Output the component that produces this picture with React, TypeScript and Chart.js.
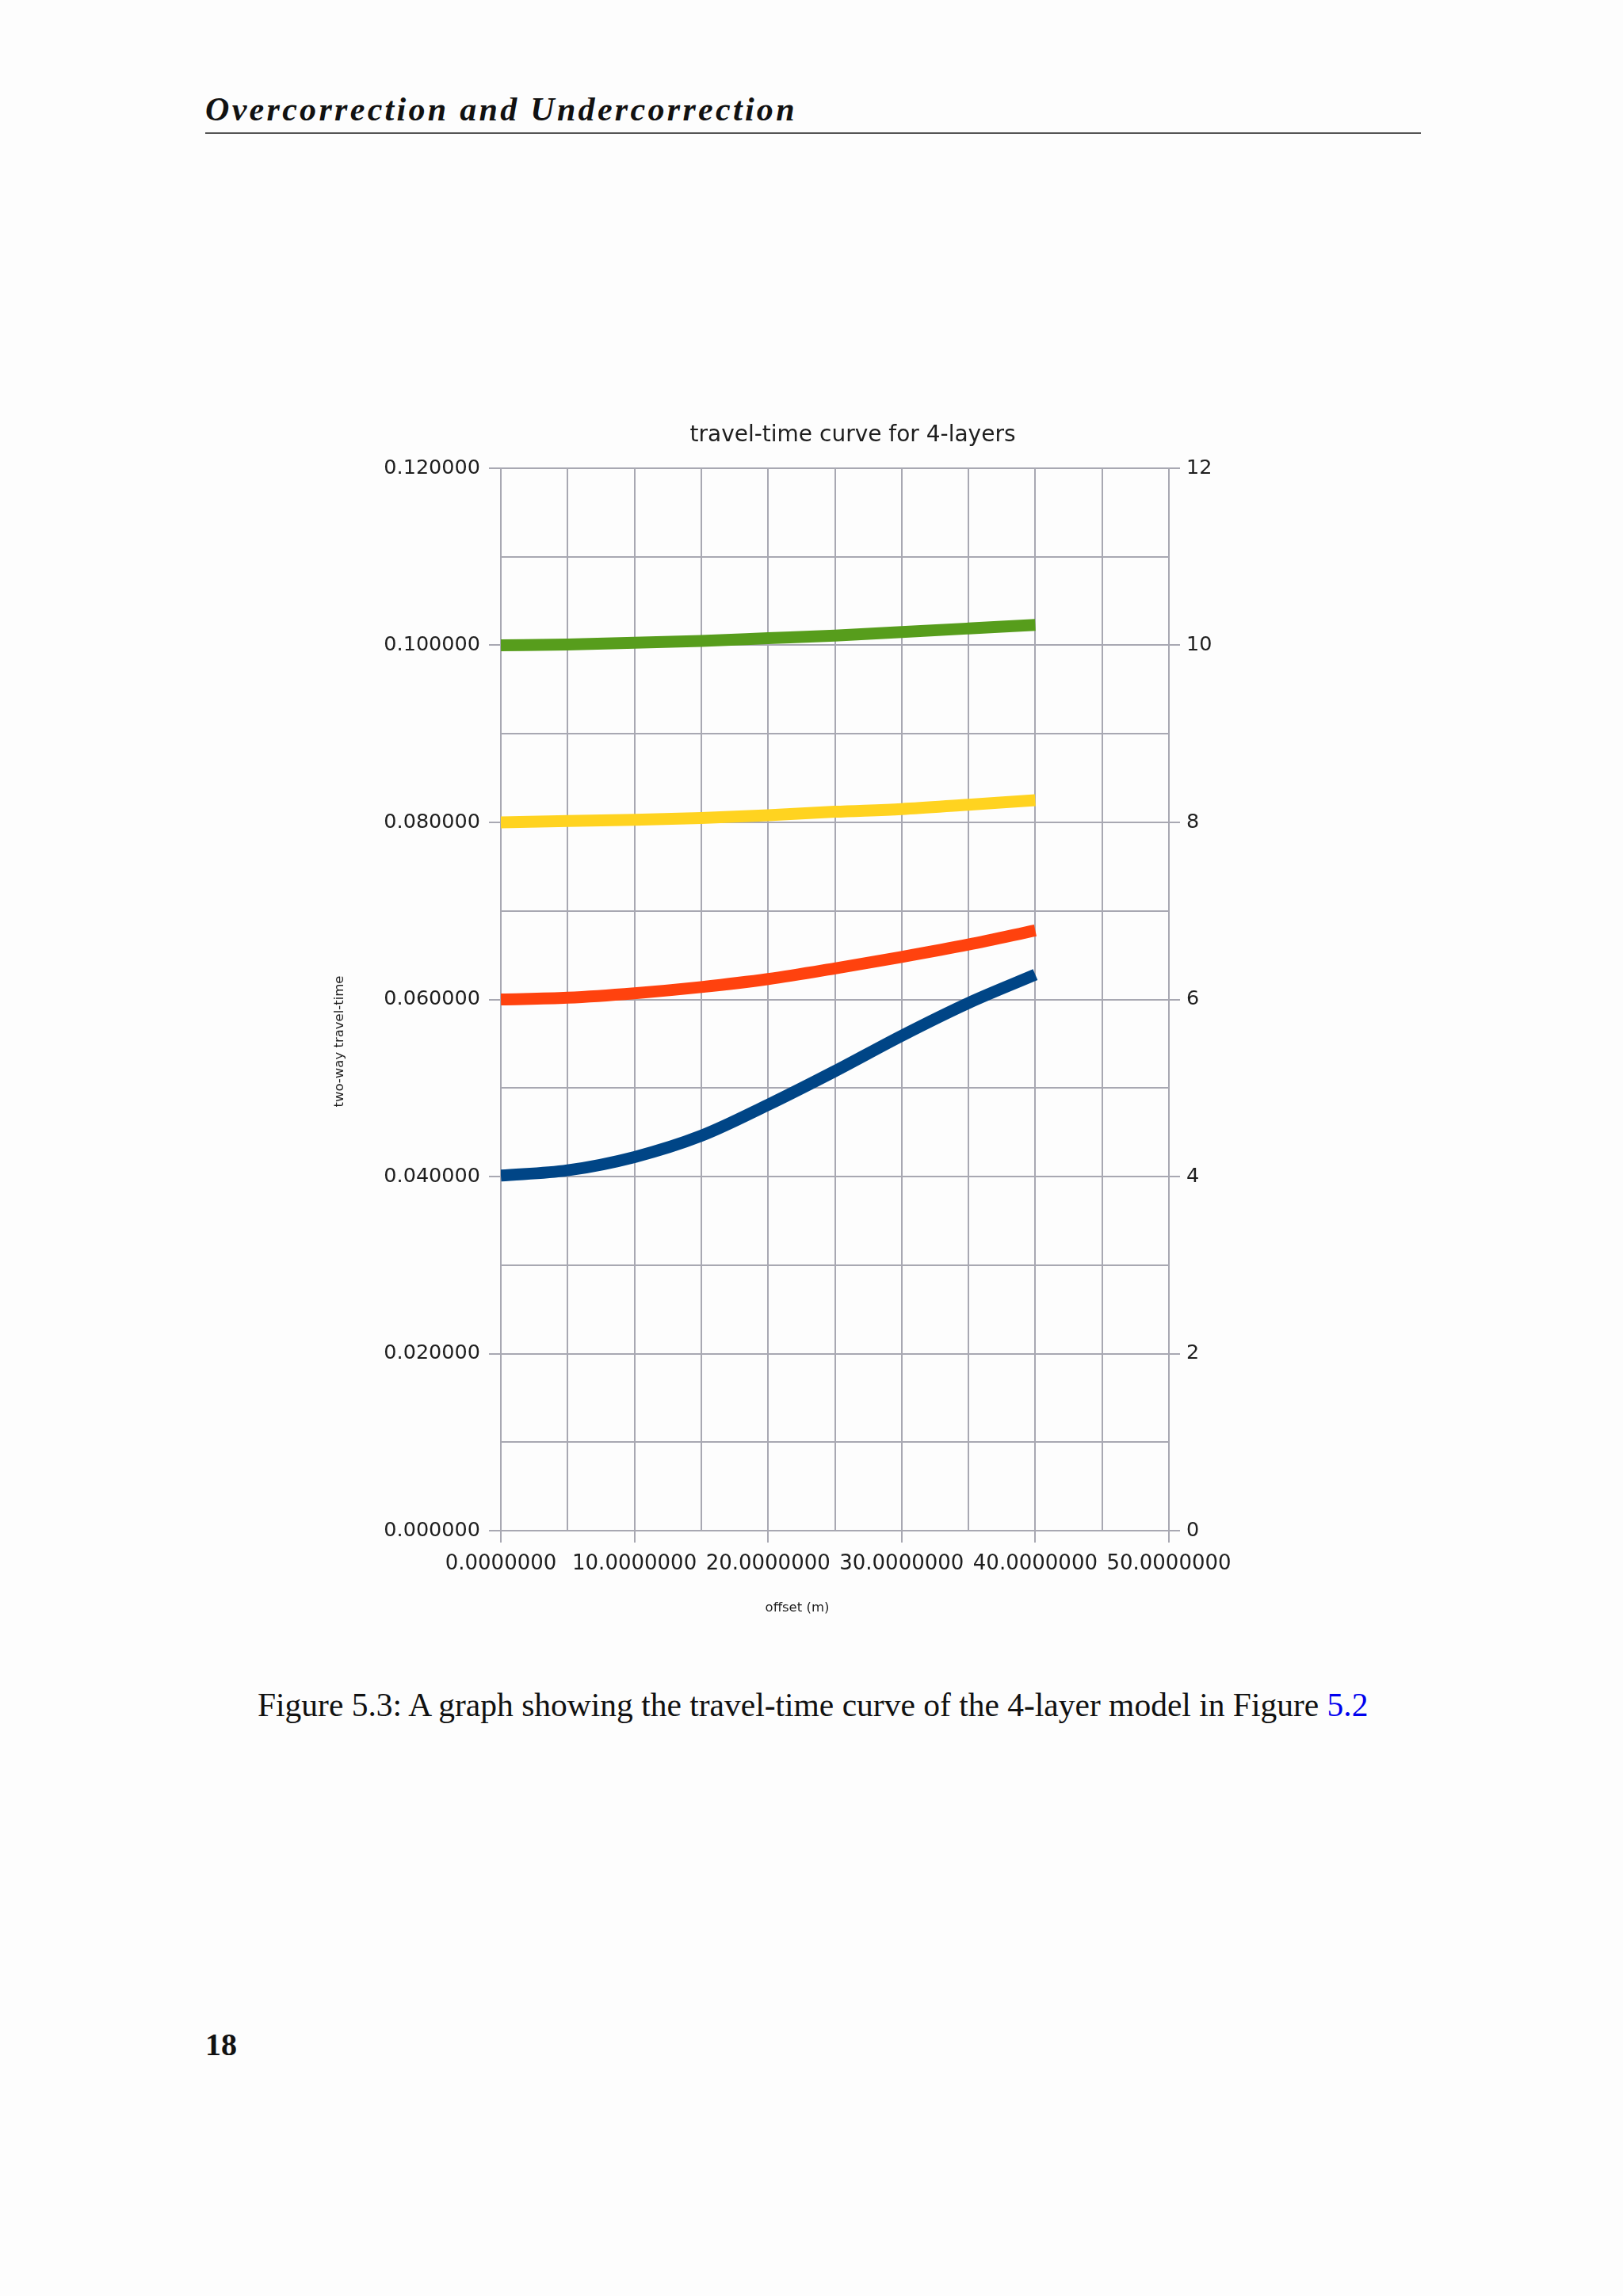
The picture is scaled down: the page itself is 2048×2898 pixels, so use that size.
import React, { useEffect, useRef } from "react";
import { Chart, registerables } from "chart.js";

Chart.register(...registerables);

// ---- data ----
const offsets = [0, 5, 10, 15, 20, 25, 30, 35, 40];
const layer1 = [0.0401, 0.0407, 0.0422, 0.0446, 0.0481, 0.0519, 0.0559, 0.0596, 0.0628];
const layer2 = [0.06, 0.0602, 0.0607, 0.0614, 0.0623, 0.0635, 0.0648, 0.0662, 0.0678];
const layer3 = [0.08, 0.08015, 0.0803, 0.0805, 0.0808, 0.0812, 0.0815, 0.082, 0.0825];
const layer4 = [0.1, 0.1001, 0.1003, 0.1005, 0.1008, 0.1011, 0.1015, 0.1019, 0.1023];
const seriesNames = ["layer 1", "layer 2", "layer 3", "layer 4"];
const seriesColors = ["#004586", "#ff420e", "#ffd320", "#579d1c"];
const chartTitle = "travel-time curve for 4-layers";
const xTitle = "offset (m)";
const yTitle = "two-way travel-time";

const GRID = "#a8a8b2";
const TEXT = "#1e1e1e";
const FONT = "'DejaVu Sans', Verdana, sans-serif";

export default function App() {
  const ref = useRef<HTMLCanvasElement | null>(null);

  useEffect(() => {
    if (!ref.current) return;
    const series = [layer1, layer2, layer3, layer4];
    const axisTitlePlugin = {
      id: "axisTitlePlugin",
      afterDraw(chart: any) {
        const { ctx, chartArea } = chart;
        ctx.save();
        ctx.font = "16.5px " + FONT;
        ctx.fillStyle = TEXT;
        ctx.textAlign = "center";
        ctx.textBaseline = "middle";
        ctx.fillText(xTitle, chartArea.left + 374, chartArea.bottom + 98);
        ctx.translate(chartArea.left - 203, (chartArea.top + chartArea.bottom) / 2 + 53);
        ctx.rotate(-Math.PI / 2);
        ctx.fillText(yTitle, 0, 0);
        ctx.restore();
      },
    };
    const chart = new Chart(ref.current, {
      type: "line",
      data: {
        datasets: series.map((s, i) => ({
          label: seriesNames[i],
          data: offsets.map((x, j) => ({ x, y: s[j] })),
          borderColor: seriesColors[i],
          backgroundColor: seriesColors[i],
          borderWidth: 15,
          borderCapStyle: "butt",
          pointRadius: 0,
          cubicInterpolationMode: "monotone",
          yAxisID: "y",
        })),
      },
      options: {
        animation: false,
        responsive: false,
        maintainAspectRatio: false,
        layout: { padding: 0 },
        plugins: {
          legend: { display: false },
          tooltip: { enabled: false },
          title: {
            display: true,
            text: chartTitle,
            color: TEXT,
            font: { family: FONT, size: 28, weight: "normal" },
            padding: { top: 33, bottom: 24.4 },
          },
        },
        scales: {
          x: {
            type: "linear",
            min: 0,
            max: 50,
            afterFit: (s: any) => {
              s.height = 128;
            },
            ticks: {
              stepSize: 5,
              autoSkip: false,
              maxRotation: 0,
              padding: 12,
              color: TEXT,
              font: { family: FONT, size: 26 },
              callback: (v: any) => (Math.round(v) % 10 === 0 ? Number(v).toFixed(7) : ""),
            },
            grid: {
              color: GRID,
              lineWidth: 2,
              tickLength: 15,
              tickColor: (c: any) => (c.tick && Math.round(c.tick.value) % 10 === 0 ? GRID : "rgba(0,0,0,0)"),
            },
            border: { display: true, color: GRID, width: 2 },
          },
          y: {
            type: "linear",
            position: "left",
            min: 0,
            max: 0.12,
            afterFit: (s: any) => {
              s.width = 232;
            },
            ticks: {
              stepSize: 0.01,
              autoSkip: false,
              padding: 11,
              color: TEXT,
              font: { family: FONT, size: 25.5 },
              callback: (v: any) => (Math.round(Number(v) * 100) % 2 === 0 ? Number(v).toFixed(6) : ""),
            },
            grid: {
              color: GRID,
              lineWidth: 2,
              tickLength: 15,
              tickColor: (c: any) =>
                c.tick && Math.round(c.tick.value * 100) % 2 === 0 ? GRID : "rgba(0,0,0,0)",
            },
            border: { display: true, color: GRID, width: 2 },
          },
          y2: {
            type: "linear",
            position: "right",
            min: 0,
            max: 12,
            afterFit: (s: any) => {
              s.width = 277;
            },
            ticks: {
              stepSize: 1,
              autoSkip: false,
              padding: 8,
              color: TEXT,
              font: { family: FONT, size: 25.5 },
              callback: (v: any) => (Math.round(Number(v)) % 2 === 0 ? String(v) : ""),
            },
            grid: {
              drawOnChartArea: false,
              color: GRID,
              lineWidth: 2,
              tickLength: 14,
              tickColor: (c: any) => (c.tick && Math.round(c.tick.value) % 2 === 0 ? GRID : "rgba(0,0,0,0)"),
            },
            border: { display: true, color: GRID, width: 2 },
          },
        },
      },
      plugins: [axisTitlePlugin],
    } as any);
    return () => chart.destroy();
  }, []);

  const serif = "'Liberation Serif', 'Times New Roman', serif";
  return (
    <div
      style={{
        position: "absolute",
        left: 0,
        top: 0,
        width: 2048,
        height: 2898,
        background: "#fdfdfd",
        overflow: "hidden",
      }}
    >
      <div
        style={{
          position: "absolute",
          left: 259,
          top: 117,
          fontFamily: serif,
          fontWeight: "bold",
          fontStyle: "italic",
          fontSize: 42,
          lineHeight: "42px",
          letterSpacing: "3.3px",
          color: "#111",
          whiteSpace: "nowrap",
        }}
      >
        Overcorrection and Undercorrection
      </div>
      <div
        style={{
          position: "absolute",
          left: 259,
          top: 167,
          width: 1534,
          height: 2,
          background: "#555",
        }}
      />
      <canvas
        ref={ref}
        width={1352}
        height={1560}
        style={{ position: "absolute", left: 400, top: 500, width: 1352, height: 1560 }}
      />
      <div
        style={{
          position: "absolute",
          left: 325,
          top: 2132,
          fontFamily: serif,
          fontSize: 41.5,
          lineHeight: "41.5px",
          color: "#111",
          whiteSpace: "nowrap",
        }}
      >
        Figure 5.3: A graph showing the travel-time curve of the 4-layer model in Figure{" "}
        <span style={{ color: "#0000ee" }}>5.2</span>
      </div>
      <div
        style={{
          position: "absolute",
          left: 259,
          top: 2561,
          fontFamily: serif,
          fontWeight: "bold",
          fontSize: 40,
          lineHeight: "40px",
          color: "#111",
        }}
      >
        18
      </div>
    </div>
  );
}
